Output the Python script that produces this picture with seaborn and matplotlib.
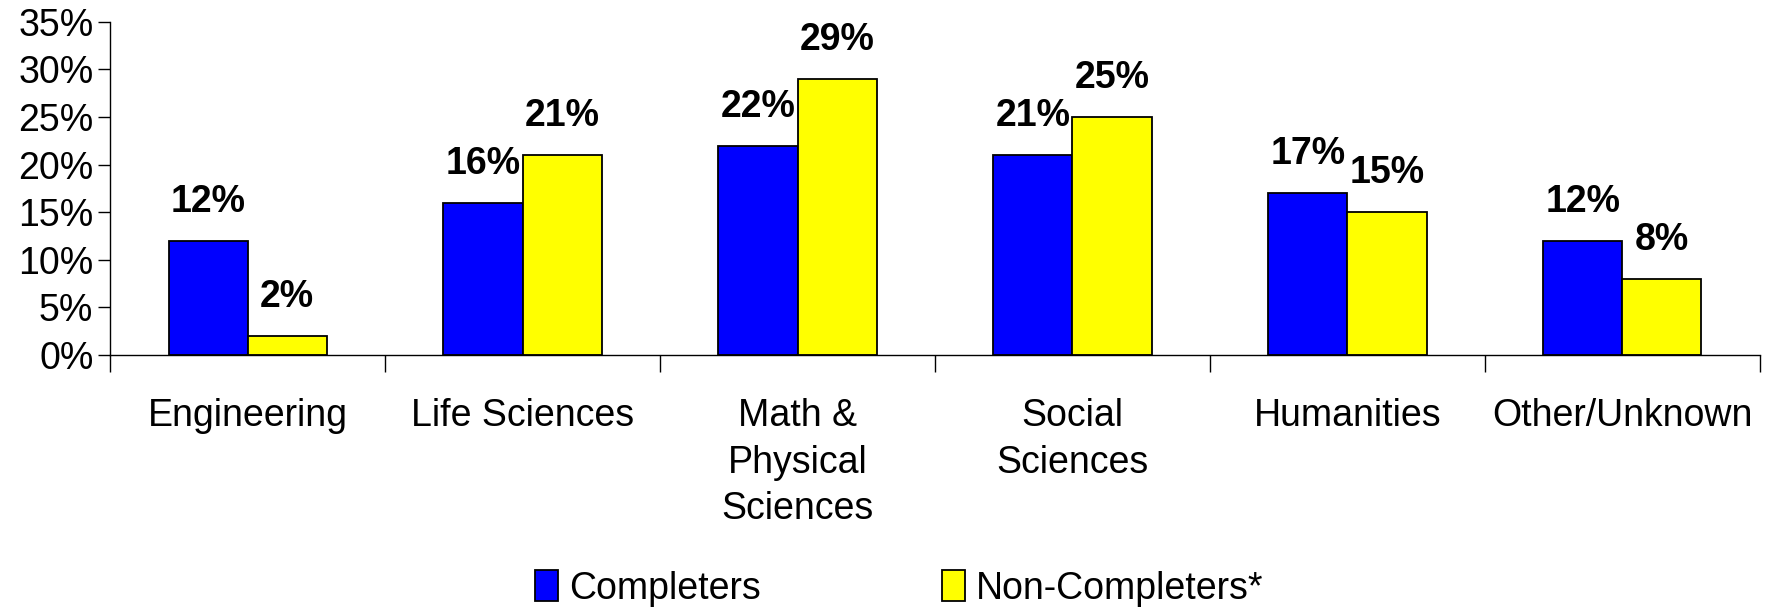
import numpy as np
import pandas as pd
import matplotlib
matplotlib.use("Agg")
import matplotlib.pyplot as plt
import matplotlib.ticker as mtick
import seaborn as sns

categories = ["Engineering", "Life Sciences", "Math &\nPhysical\nSciences",
              "Social\nSciences", "Humanities", "Other/Unknown"]
completers = [12, 16, 22, 21, 17, 12]
non_completers = [2, 21, 29, 25, 15, 8]
series_names = ["Completers", "Non-Completers*"]
y_ticks = [0, 5, 10, 15, 20, 25, 30, 35]

df = pd.DataFrame({
    "category": categories * 2,
    "value": completers + non_completers,
    "series": [series_names[0]] * len(categories) + [series_names[1]] * len(categories),
})

sns.set_style("ticks")
plt.rcParams["font.family"] = ["Liberation Sans", "DejaVu Sans"]
plt.rcParams["text.color"] = "black"
plt.rcParams["xtick.color"] = "black"
plt.rcParams["ytick.color"] = "black"

FS = 27

fig = plt.figure(figsize=(17.67, 6.07), dpi=100)
ax = fig.add_axes([0.0623, 0.415, 0.9337, 0.549])

sns.barplot(data=df, x="category", y="value", hue="series", ax=ax,
            palette={"Completers": "#0000FF", "Non-Completers*": "#FFFF00"},
            width=0.575, saturation=1, edgecolor="black", linewidth=1.3,
            legend=False)

# value labels above each bar
for cont in ax.containers:
    ax.bar_label(cont, labels=[f"{v:.0f}%" for v in cont.datavalues],
                 padding=15, fontsize=FS, fontweight="bold", color="black")

ax.set_xlim(-0.5, len(categories) - 0.5)
ax.set_ylim(0, 35)
ax.set_yticks(y_ticks)
ax.yaxis.set_major_formatter(mtick.FuncFormatter(lambda v, p: f"{v:.0f}%"))
ax.tick_params(axis="y", length=9, width=1, labelsize=FS, pad=3, labelcolor="black")
ax.tick_params(axis="x", which="major", length=0, labelsize=FS, pad=31, labelcolor="black")
ax.set_xticks(np.arange(-0.5, len(categories)), minor=True)
ax.tick_params(axis="x", which="minor", length=12, width=1)
for lbl in ax.get_xticklabels():
    lbl.set_verticalalignment("top")
    lbl.set_linespacing(1.38)

ax.set_xlabel("")
ax.set_ylabel("")
sns.despine(ax=ax)
for s in ["left", "bottom"]:
    ax.spines[s].set_color("black")
    ax.spines[s].set_linewidth(1)

handles = [plt.Rectangle((0, 0), 1, 1, facecolor=c, edgecolor="black", linewidth=1.3)
           for c in ["#0000FF", "#FFFF00"]]
fig.legend(handles, series_names, loc="lower center", bbox_to_anchor=(0.509, -0.055),
           ncol=2, frameon=False, fontsize=FS, handlelength=0.6, handleheight=0.9,
           handletextpad=0.3, columnspacing=4.85)

fig.savefig("out.png", dpi=100)
